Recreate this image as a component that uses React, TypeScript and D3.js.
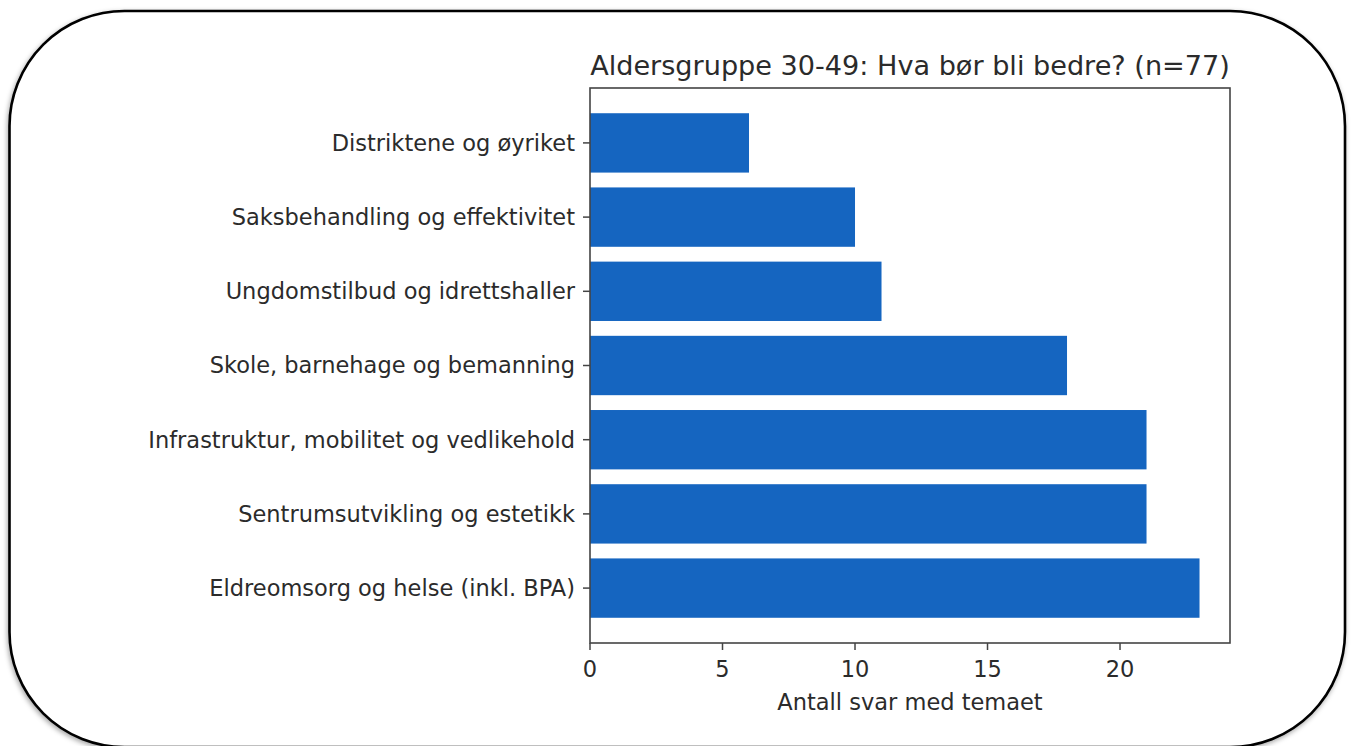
import * as d3 from 'd3';

const categories = [
  'Eldreomsorg og helse (inkl. BPA)',
  'Sentrumsutvikling og estetikk',
  'Infrastruktur, mobilitet og vedlikehold',
  'Skole, barnehage og bemanning',
  'Ungdomstilbud og idrettshaller',
  'Saksbehandling og effektivitet',
  'Distriktene og øyriket',
];
const counts = [23, 21, 21, 18, 11, 10, 6];
const xTicks = [0, 5, 10, 15, 20];

const title = 'Aldersgruppe 30-49: Hva bør bli bedre? (n=77)';
const xLabel = 'Antall svar med temaet';

const W = 1351;
const H = 746;
const plot = { left: 590, right: 1230, top: 88, bottom: 643 };
const font = '"DejaVu Sans", sans-serif';
const textColor = '#2b2b2b';

const App = () => {
  const xMax = d3.max(counts) * 1.05;
  const x = d3.scaleLinear().domain([0, xMax]).range([plot.left, plot.right]);
  const n = categories.length;
  const pad = (n - 1 + 0.8) * 0.05;
  const y = d3.scaleLinear()
    .domain([-0.4 - pad, n - 1 + 0.4 + pad])
    .range([plot.bottom, plot.top]);
  const barH = y(0) - y(0.8);

  return (
    <div style={{ position: 'fixed', left: 0, top: 0 }}>
      <svg width={W} height={H} style={{ display: 'block' }}>
        <defs>
          <filter id="shadow" x="-5%" y="-5%" width="110%" height="110%">
            <feDropShadow dx="-1" dy="2" stdDeviation="2.5" floodColor="#000" floodOpacity="0.35" />
          </filter>
        </defs>
        <rect x={0} y={0} width={W} height={H} fill="#fff" />
        <rect x={9.5} y={11} width={1335.5} height={736} rx={115} ry={115}
          fill="#fff" stroke="#000" strokeWidth={2.6} filter="url(#shadow)" />

        <text x={(plot.left + plot.right) / 2} y={75} textAnchor="middle"
          fontFamily={font} fontSize={27.1} fill={textColor}>{title}</text>

        {counts.map((v, i) => (
          <rect key={categories[i]} x={x(0)} y={y(i) - barH / 2}
            width={x(v) - x(0)} height={barH} fill="#1565c0" />
        ))}

        {categories.map((c, i) => (
          <g key={c}>
            <line x1={plot.left - 7} x2={plot.left} y1={y(i)} y2={y(i)} stroke="#444" strokeWidth={1.5} />
            <text x={plot.left - 15} y={y(i)} dy="0.35em" textAnchor="end"
              fontFamily={font} fontSize={22.5} fill={textColor}>{c}</text>
          </g>
        ))}

        {xTicks.map(t => (
          <g key={t}>
            <line x1={x(t)} x2={x(t)} y1={plot.bottom} y2={plot.bottom + 7} stroke="#444" strokeWidth={1.5} />
            <text x={x(t)} y={plot.bottom + 26} dy="0.35em" textAnchor="middle"
              fontFamily={font} fontSize={22.5} fill={textColor}>{t}</text>
          </g>
        ))}

        <text x={(plot.left + plot.right) / 2} y={702} dy="0.35em" textAnchor="middle"
          fontFamily={font} fontSize={22.5} fill={textColor}>{xLabel}</text>

        <rect x={plot.left} y={plot.top} width={plot.right - plot.left} height={plot.bottom - plot.top}
          fill="none" stroke="#444" strokeWidth={1.6} />
      </svg>
    </div>
  );
};

export default App;
